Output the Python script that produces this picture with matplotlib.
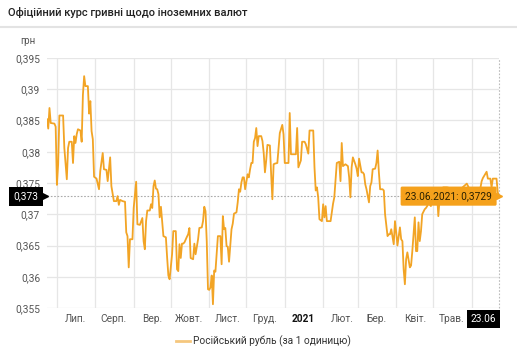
import matplotlib
matplotlib.use('Agg')
import matplotlib.pyplot as plt
from matplotlib.lines import Line2D
from matplotlib.ticker import FuncFormatter
import pandas as pd

plt.rcParams['font.family'] = ['Roboto', 'DejaVu Sans']

# Курс рубля (грн за 1 одиницю), 23.06.2020 - 23.06.2021
dates = [
    '2020-06-23', '2020-06-24', '2020-06-25', '2020-06-26', '2020-06-29', '2020-06-30',
    '2020-07-01', '2020-07-02', '2020-07-03', '2020-07-06', '2020-07-07', '2020-07-09',
    '2020-07-10', '2020-07-11', '2020-07-13', '2020-07-14', '2020-07-15', '2020-07-16',
    '2020-07-17', '2020-07-18', '2020-07-20', '2020-07-21', '2020-07-22', '2020-07-23',
    '2020-07-24', '2020-07-26', '2020-07-27', '2020-07-28', '2020-07-29', '2020-07-30',
    '2020-07-31', '2020-08-02', '2020-08-04', '2020-08-05', '2020-08-07', '2020-08-08',
    '2020-08-10', '2020-08-11', '2020-08-13', '2020-08-14', '2020-08-16', '2020-08-18',
    '2020-08-19', '2020-08-20', '2020-08-21', '2020-08-23', '2020-08-25', '2020-08-26',
    '2020-08-27', '2020-08-28', '2020-08-29', '2020-08-31', '2020-09-01', '2020-09-03',
    '2020-09-04', '2020-09-06', '2020-09-08', '2020-09-09', '2020-09-10', '2020-09-11',
    '2020-09-12', '2020-09-14', '2020-09-15', '2020-09-16', '2020-09-17', '2020-09-18',
    '2020-09-19', '2020-09-20', '2020-09-21', '2020-09-22', '2020-09-23', '2020-09-24',
    '2020-09-25', '2020-09-27', '2020-09-28', '2020-09-29', '2020-09-30', '2020-10-02',
    '2020-10-03', '2020-10-05', '2020-10-06', '2020-10-07', '2020-10-08', '2020-10-09',
    '2020-10-10', '2020-10-11', '2020-10-12', '2020-10-14', '2020-10-15', '2020-10-16',
    '2020-10-17', '2020-10-19', '2020-10-20', '2020-10-21', '2020-10-23', '2020-10-24',
    '2020-10-26', '2020-10-27', '2020-10-28', '2020-10-29', '2020-10-30', '2020-10-31',
    '2020-11-01', '2020-11-02', '2020-11-03', '2020-11-04', '2020-11-05', '2020-11-06',
    '2020-11-07', '2020-11-08', '2020-11-10', '2020-11-11', '2020-11-12', '2020-11-13',
    '2020-11-14', '2020-11-15', '2020-11-16', '2020-11-17', '2020-11-19', '2020-11-20',
    '2020-11-21', '2020-11-23', '2020-11-24', '2020-11-25', '2020-11-26', '2020-11-27',
    '2020-11-28', '2020-11-29', '2020-11-30', '2020-12-02', '2020-12-03', '2020-12-04',
    '2020-12-05', '2020-12-06', '2020-12-07', '2020-12-08', '2020-12-09', '2020-12-10',
    '2020-12-11', '2020-12-13', '2020-12-14', '2020-12-15', '2020-12-16', '2020-12-17',
    '2020-12-18', '2020-12-20', '2020-12-21', '2020-12-22', '2020-12-23', '2020-12-24',
    '2020-12-26', '2020-12-28', '2020-12-30', '2020-12-31', '2021-01-01', '2021-01-04',
    '2021-01-05', '2021-01-06', '2021-01-10', '2021-01-11', '2021-01-12', '2021-01-14',
    '2021-01-15', '2021-01-17', '2021-01-18', '2021-01-20', '2021-01-21', '2021-01-24',
    '2021-01-25', '2021-01-26', '2021-01-27', '2021-01-28', '2021-01-29', '2021-01-31',
    '2021-02-01', '2021-02-02', '2021-02-03', '2021-02-04', '2021-02-07', '2021-02-09',
    '2021-02-10', '2021-02-11', '2021-02-12', '2021-02-14', '2021-02-15', '2021-02-16',
    '2021-02-17', '2021-02-19', '2021-02-21', '2021-02-22', '2021-02-23', '2021-02-24',
    '2021-02-25', '2021-02-27', '2021-02-28', '2021-03-01', '2021-03-02', '2021-03-04',
    '2021-03-05', '2021-03-06', '2021-03-07', '2021-03-08', '2021-03-10', '2021-03-11',
    '2021-03-12', '2021-03-13', '2021-03-15', '2021-03-16', '2021-03-17', '2021-03-18',
    '2021-03-19', '2021-03-21', '2021-03-22', '2021-03-23', '2021-03-25', '2021-03-26',
    '2021-03-27', '2021-03-28', '2021-03-30', '2021-03-31', '2021-04-01', '2021-04-02',
    '2021-04-04', '2021-04-05', '2021-04-06', '2021-04-07', '2021-04-08', '2021-04-09',
    '2021-04-10', '2021-04-12', '2021-04-13', '2021-04-14', '2021-04-16', '2021-04-17',
    '2021-04-18', '2021-04-19', '2021-04-20', '2021-04-21', '2021-04-22', '2021-04-24',
    '2021-04-25', '2021-04-26', '2021-04-27', '2021-04-29', '2021-04-30', '2021-05-01',
    '2021-05-02', '2021-05-04', '2021-05-05', '2021-05-06', '2021-05-07', '2021-05-09',
    '2021-05-10', '2021-05-12', '2021-05-18', '2021-05-24', '2021-05-28', '2021-05-30',
    '2021-06-04', '2021-06-08', '2021-06-09', '2021-06-10', '2021-06-13', '2021-06-14',
    '2021-06-16', '2021-06-17', '2021-06-18', '2021-06-21', '2021-06-22', '2021-06-23',
]
rates = [
    0.3852, 0.3837, 0.3870, 0.3846, 0.3845, 0.3840,
    0.3747, 0.3780, 0.3858, 0.3858, 0.3806, 0.3756,
    0.3806, 0.3816, 0.3816, 0.3782, 0.3825, 0.3814,
    0.3828, 0.3836, 0.3834, 0.3816, 0.3891, 0.3921,
    0.3905, 0.3905, 0.3861, 0.3881, 0.3833, 0.3820,
    0.3760, 0.3757, 0.3740, 0.3769, 0.3798, 0.3772,
    0.3771, 0.3753, 0.3791, 0.3745, 0.3721, 0.3721,
    0.3729, 0.3715, 0.3723, 0.3721, 0.3720, 0.3671,
    0.3665, 0.3615, 0.3660, 0.3660, 0.3710, 0.3752,
    0.3684, 0.3683, 0.3694, 0.3657, 0.3644, 0.3689,
    0.3706, 0.3706, 0.3716, 0.3710, 0.3745, 0.3754,
    0.3741, 0.3740, 0.3732, 0.3695, 0.3712, 0.3689,
    0.3665, 0.3663, 0.3631, 0.3602, 0.3596, 0.3636,
    0.3673, 0.3673, 0.3612, 0.3609, 0.3652, 0.3630,
    0.3653, 0.3653, 0.3655, 0.3664, 0.3668, 0.3678,
    0.3630, 0.3628, 0.3653, 0.3636, 0.3660, 0.3678,
    0.3679, 0.3689, 0.3712, 0.3705, 0.3657, 0.3580,
    0.3579, 0.3583, 0.3602, 0.3556, 0.3610, 0.3608,
    0.3636, 0.3665, 0.3665, 0.3620, 0.3697, 0.3676,
    0.3678, 0.3649, 0.3648, 0.3624, 0.3676, 0.3685,
    0.3701, 0.3703, 0.3719, 0.3740, 0.3736, 0.3751,
    0.3759, 0.3759, 0.3740, 0.3764, 0.3759, 0.3772,
    0.3782, 0.3782, 0.3816, 0.3822, 0.3838, 0.3809,
    0.3825, 0.3825, 0.3817, 0.3798, 0.3767, 0.3786,
    0.3811, 0.3810, 0.3764, 0.3724, 0.3780, 0.3781,
    0.3782, 0.3830, 0.3843, 0.3828, 0.3782, 0.3782,
    0.3862, 0.3796, 0.3796, 0.3838, 0.3775, 0.3786,
    0.3816, 0.3816, 0.3812, 0.3797, 0.3834, 0.3834,
    0.3775, 0.3738, 0.3743, 0.3727, 0.3692, 0.3689,
    0.3716, 0.3695, 0.3713, 0.3689, 0.3689, 0.3717,
    0.3727, 0.3754, 0.3782, 0.3784, 0.3753, 0.3814,
    0.3777, 0.3780, 0.3777, 0.3759, 0.3727, 0.3775,
    0.3791, 0.3780, 0.3773, 0.3761, 0.3789, 0.3767,
    0.3767, 0.3764, 0.3748, 0.3740, 0.3719, 0.3745,
    0.3751, 0.3772, 0.3773, 0.3782, 0.3802, 0.3767,
    0.3740, 0.3740, 0.3738, 0.3700, 0.3665, 0.3668,
    0.3668, 0.3676, 0.3652, 0.3689, 0.3671, 0.3650,
    0.3679, 0.3660, 0.3657, 0.3612, 0.3588, 0.3628,
    0.3639, 0.3615, 0.3618, 0.3641, 0.3695, 0.3641,
    0.3641, 0.3687, 0.3657, 0.3673, 0.3700, 0.3708,
    0.3710, 0.3713, 0.3719, 0.3713, 0.3737, 0.3727,
    0.3727, 0.3732, 0.3697, 0.3724, 0.3740, 0.3743,
    0.3743, 0.3743, 0.3740, 0.3742, 0.3749, 0.3741,
    0.3740, 0.3742, 0.3753, 0.3758, 0.3768, 0.3757,
    0.3757, 0.3743, 0.3757, 0.3757, 0.3735, 0.3729,
]

month_ticks = ['2020-07-01', '2020-08-01', '2020-09-01', '2020-10-01', '2020-11-01',
               '2020-12-01', '2021-01-01', '2021-02-01', '2021-03-01', '2021-04-01',
               '2021-05-01', '2021-06-01']
month_labels = ['Лип.', 'Серп.', 'Вер.', 'Жовт.', 'Лист.', 'Груд.', '2021',
                'Лют.', 'Бер.', 'Квіт.', 'Трав.', '']
y_ticks = [0.355, 0.36, 0.365, 0.37, 0.375, 0.38, 0.385, 0.39, 0.395]

line_color = '#f2a425'
grid_color = '#e6e6e6'
text_color = '#555555'

x = pd.to_datetime(dates)
x_last = x[-1]
y_last = rates[-1]

W, H = 517, 350
fig = plt.figure(figsize=(W / 100, H / 100), dpi=100)
ax = fig.add_axes([47 / W, 1 - 308 / H, (499 - 47) / W, 250 / H])

ax.plot(x, rates, color=line_color, lw=1.3, solid_joinstyle='round', zorder=3)

ax.set_xlim(x[0], x_last)
ax.set_ylim(0.355, 0.395)

# сітка
ax.set_yticks(y_ticks)
ax.yaxis.set_major_formatter(FuncFormatter(lambda v, p: f'{v:g}'.replace('.', ',')))
ax.grid(axis='y', color=grid_color, lw=0.9)
tick_pos = pd.to_datetime(month_ticks)
for t in tick_pos:
    ax.axvline(t, color=grid_color, lw=0.9, zorder=0)
ax.set_xticks([])
for s in ax.spines.values():
    s.set_visible(False)
ax.tick_params(axis='y', length=0, pad=5, labelsize=7.3, labelcolor=text_color)

# підписи місяців посередині місяця
for t, lab in zip(tick_pos, month_labels):
    if not lab:
        continue
    mid = t + pd.Timedelta(days=15)
    ax.text(mid, -0.044, lab, transform=ax.get_xaxis_transform(),
            ha='center', va='center', fontsize=7.3,
            color='#111111' if lab == '2021' else text_color,
            fontweight='bold' if lab == '2021' else 'normal')

# перехрестя на останньому значенні
ax.axhline(y_last, color='#aaaaaa', lw=0.8, ls=(0, (1.5, 1.5)), zorder=2)
ax.axvline(x_last, color='#bbbbbb', lw=0.8, ls=(0, (1.5, 1.5)), zorder=2, clip_on=False)

tip = f'{x_last:%d.%m.%Y}: ' + f'{y_last:.4f}'.replace('.', ',')
ax.annotate(tip, xy=(x_last, y_last), xytext=(-5, 0), textcoords='offset points',
            ha='right', va='center', fontsize=7.3, color='#2b2100', zorder=5,
            bbox=dict(boxstyle='round,pad=0.45,rounding_size=0.15', fc='#f5a11c', ec='none'))
ax.plot([x_last], [y_last], marker='>', ms=5, color='#f5a11c', ls='none',
        clip_on=False, zorder=5)

ax.annotate(f'{y_last:.3f}'.replace('.', ','), xy=(0, y_last),
            xycoords=('axes fraction', 'data'), xytext=(-6, 0), textcoords='offset points',
            ha='right', va='center', fontsize=7.3, color='white', zorder=6,
            bbox=dict(boxstyle='square,pad=0.45', fc='black', ec='none'),
            annotation_clip=False)
fig.add_artist(Line2D([44.5 / W], [1 - 196 / H], marker='>', ms=4, color='black',
                      ls='none'))

ax.annotate(f'{x_last:%d.%m}', xy=(x_last, 0), xycoords=('data', 'axes fraction'),
            xytext=(-2, -8), textcoords='offset points', ha='right', va='center',
            fontsize=7.3, color='white', zorder=6, annotation_clip=False,
            bbox=dict(boxstyle='square,pad=0.4', fc='black', ec='none'))

ax.text(-0.025, 1.05, 'грн', transform=ax.transAxes, ha='right', va='bottom',
        fontsize=7, color=text_color)

# заголовок
fig.text(8 / W, 1 - 13 / H, 'Офіційний курс гривні щодо іноземних валют',
         ha='left', va='center', fontsize=8, fontweight='medium', color='#222222')
fig.add_artist(Line2D([0, 1], [1 - 27 / H] * 2, color='#e3e3e3', lw=1.5))

# легенда
fig.add_artist(Line2D([176 / W, 190 / W], [1 - 341 / H] * 2, color='#f5c77e', lw=2))
fig.text(193 / W, 1 - 341 / H, 'Російський рубль (за 1 одиницю)', ha='left',
         va='center', fontsize=7.3, color='#333333')

fig.savefig('out.png', dpi=100, facecolor='white')
